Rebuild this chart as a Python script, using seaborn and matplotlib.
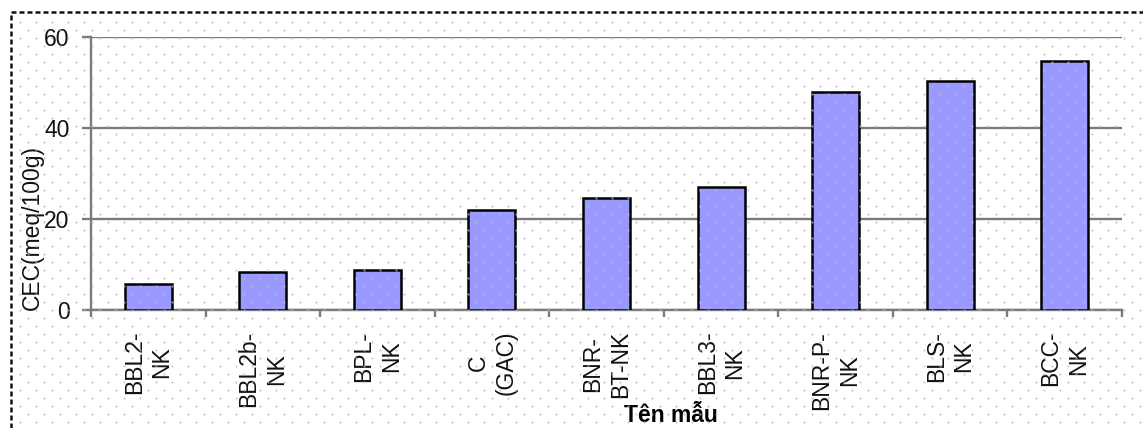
import numpy as np
import pandas as pd
import matplotlib
matplotlib.use("Agg")
import matplotlib.pyplot as plt
from matplotlib.lines import Line2D
import seaborn as sns

# CEC values per sample
samples = ["BBL2-\nNK", "BBL2b-\nNK", "BPL-\nNK", "C\n(GAC)", "BNR-\nBT-NK",
           "BBL3-\nNK", "BNR-P-\nNK", "BLS-\nNK", "BCC-\nNK"]
cec = [5.7, 8.4, 8.8, 22.0, 24.6, 27.0, 47.9, 50.3, 54.7]
y_ticks = [0, 20, 40, 60]

sns.set_theme(style="white")
plt.rcParams["font.family"] = ["Liberation Sans", "DejaVu Sans"]

W, H = 1143, 428
FS = 16.5
fig = plt.figure(figsize=(W / 100, H / 100), dpi=100)
fig.patch.set_facecolor("white")

ax = fig.add_axes([91 / W, 1 - 310 / H, (1122 - 91) / W, (310 - 37) / H])
ax.set_facecolor("none")

df = pd.DataFrame({"sample": samples, "cec": cec})
sns.barplot(data=df, x="sample", y="cec", color="#9999FF", saturation=1,
            width=0.41, edgecolor="black", linewidth=1.8, ax=ax, zorder=3)

n = len(samples)
ax.set_xlim(-0.5, n - 0.5)
ax.set_ylim(0, 60)
ax.set_yticks(y_ticks)
ax.yaxis.grid(True, color="#7a7a7a", linewidth=1.7, zorder=0)
ax.set_axisbelow(True)

for s in ["top", "right"]:
    ax.spines[s].set_visible(False)
for s in ["left", "bottom"]:
    ax.spines[s].set_color("#7a7a7a")
    ax.spines[s].set_linewidth(1.7)

ax.tick_params(axis="y", which="major", direction="out", length=6.5, width=1.7,
               color="#7a7a7a", labelsize=FS, pad=9, left=True, labelcolor="#111111")
ax.tick_params(axis="x", which="major", length=0, pad=15, labelsize=FS,
               labelcolor="#111111")
ax.set_xticks(range(n))
ax.set_xticklabels(samples, rotation=90, ha="center", va="top",
                   multialignment="center", linespacing=1.25)
ax.set_xticks(np.arange(-0.5, n, 1.0), minor=True)
ax.tick_params(axis="x", which="minor", direction="out", length=5, width=1.7,
               color="#7a7a7a", bottom=True)

ax.set_ylabel("CEC(meq/100g)", fontsize=FS, color="#111111")
ax.yaxis.set_label_coords((32 - 91) / (1122 - 91), (310 - 227) / (310 - 37))
ax.set_xlabel("Tên mẫu", fontsize=FS, fontweight="bold", color="#000000")
ax.xaxis.set_label_coords((671 - 91) / (1122 - 91), -(415 - 310) / (310 - 37))
ax.xaxis.label.set_va("center")
ax.yaxis.label.set_va("center")

# dashed chart-area border (left and top edges)
fig.add_artist(Line2D([11 / W, 11 / W], [0, 1 - 12 / H], transform=fig.transFigure,
                      color="#111111", linewidth=1.8, linestyle=(0, (2, 1.2))))
fig.add_artist(Line2D([11 / W, 1], [1 - 12 / H, 1 - 12 / H], transform=fig.transFigure,
                      color="#111111", linewidth=1.8, linestyle=(0, (2, 1.2))))

# light dotted background fill pattern
px, py = [], []
for j, yy in enumerate(np.arange(5.7, H, 8.0)):
    if yy < 14:
        continue
    off = 4.3 if j % 2 == 0 else 12.3
    xs = np.arange(off, W, 16.0)
    xs = xs[xs > 14]
    px.extend(xs)
    py.extend([yy] * len(xs))
px = np.array(px) / W
py = 1 - np.array(py) / H
fig.add_artist(Line2D(px, py, transform=fig.transFigure, linestyle="none",
                      marker="o", markersize=1.6, markeredgewidth=0,
                      markerfacecolor="#bdbdbd", alpha=0.75, zorder=10))

fig.savefig("out.png", dpi=100)
